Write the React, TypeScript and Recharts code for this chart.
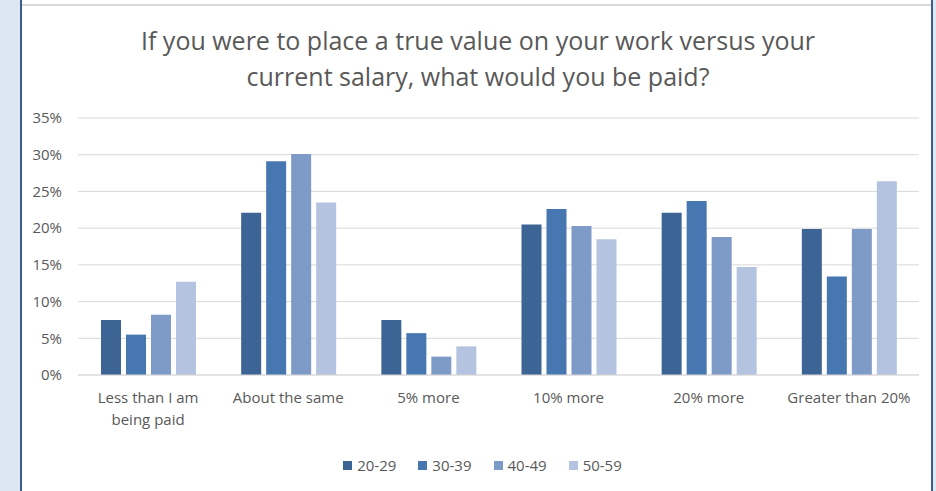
import { BarChart, Bar, XAxis, YAxis, CartesianGrid, Legend } from 'recharts';

const categories = [
  'Less than I am being paid',
  'About the same',
  '5% more',
  '10% more',
  '20% more',
  'Greater than 20%',
];

const age20 = [0.075, 0.221, 0.075, 0.205, 0.221, 0.199];
const age30 = [0.055, 0.291, 0.057, 0.226, 0.237, 0.134];
const age40 = [0.082, 0.301, 0.025, 0.203, 0.188, 0.199];
const age50 = [0.127, 0.235, 0.039, 0.185, 0.147, 0.264];

const yTicks = [0, 0.05, 0.1, 0.15, 0.2, 0.25, 0.3, 0.35];

const series = [
  { key: 'a', name: '20-29', color: '#3c6495' },
  { key: 'b', name: '30-39', color: '#4677b0' },
  { key: 'c', name: '40-49', color: '#7e9bc8' },
  { key: 'd', name: '50-59', color: '#b4c3df' },
];

const data = categories.map((name, i) => ({
  name,
  a: age20[i],
  b: age30[i],
  c: age40[i],
  d: age50[i],
}));

const FONT = '"Open Sans", Lato, sans-serif';
const TEXT = '#595959';

function wrap(label: string, max: number) {
  const words = label.split(' ');
  const lines: string[] = [];
  let cur = '';
  words.forEach((w) => {
    const next = cur ? cur + ' ' + w : w;
    if (next.length > max && cur) {
      lines.push(cur);
      cur = w;
    } else {
      cur = next;
    }
  });
  if (cur) lines.push(cur);
  return lines;
}

function CategoryTick(props: any) {
  const { x, y, payload } = props;
  const lines = wrap(payload.value, 16);
  return (
    <text x={x} y={y} textAnchor="middle" fill={TEXT} fontSize={15} fontFamily={FONT}>
      {lines.map((l, i) => (
        <tspan key={i} x={x} dy={i === 0 ? 28 : 22}>
          {l}
        </tspan>
      ))}
    </text>
  );
}

function LegendContent() {
  return (
    <div
      style={{
        display: 'flex',
        justifyContent: 'center',
        gap: 22,
        paddingLeft: 46,
        fontFamily: FONT,
        fontSize: 15,
        color: TEXT,
      }}
    >
      {series.map((s) => (
        <div key={s.key} style={{ display: 'flex', alignItems: 'center' }}>
          <span style={{ width: 9, height: 9, background: s.color, display: 'inline-block', marginRight: 5 }} />
          <span>{s.name}</span>
        </div>
      ))}
    </div>
  );
}

export default function App() {
  return (
    <div style={{ position: 'absolute', left: 0, top: 0, width: 936, height: 491, background: '#dde7f2', overflow: 'hidden' }}>
      <div
        style={{
          position: 'absolute',
          left: 20,
          top: 0,
          width: 909,
          height: 491,
          background: '#ffffff',
          borderLeft: '2px solid #3d5c8c',
          borderRight: '2px solid #3d5c8c',
        }}
      />
      <div style={{ position: 'absolute', left: 22, top: 4, width: 909, height: 2, background: '#d9d9d9' }} />
      <div
        style={{
          position: 'absolute',
          left: 22,
          top: 22,
          width: 912,
          textAlign: 'center',
          fontFamily: FONT,
          fontSize: 25,
          lineHeight: '36px',
          color: TEXT,
        }}
      >
        If you were to place a true value on your work versus your
        <br />
        current salary, what would you be paid?
      </div>
      <div style={{ position: 'absolute', left: 0, top: 0 }}>
        <BarChart
          width={936}
          height={491}
          data={data}
          margin={{ top: 118, right: 17, left: 0, bottom: 0 }}
          barSize={20}
          barGap={5}
        >
          <CartesianGrid vertical={false} stroke="#d9d9d9" />
          <XAxis
            dataKey="name"
            height={80}
            tickLine={false}
            tickSize={0}
            tickMargin={0}
            axisLine={{ stroke: '#d9d9d9' }}
            tick={<CategoryTick />}
            interval={0}
          />
          <YAxis
            width={78}
            domain={[0, 0.35]}
            ticks={yTicks}
            tickFormatter={(v: number) => `${Math.round(v * 100)}%`}
            axisLine={false}
            tickLine={false}
            tickMargin={10}
            tick={{ fill: TEXT, fontSize: 15, fontFamily: FONT }}
          />
          <Legend verticalAlign="bottom" height={36} content={<LegendContent />} />
          {series.map((s) => (
            <Bar key={s.key} dataKey={s.key} name={s.name} fill={s.color} isAnimationActive={false} />
          ))}
        </BarChart>
      </div>
    </div>
  );
}
